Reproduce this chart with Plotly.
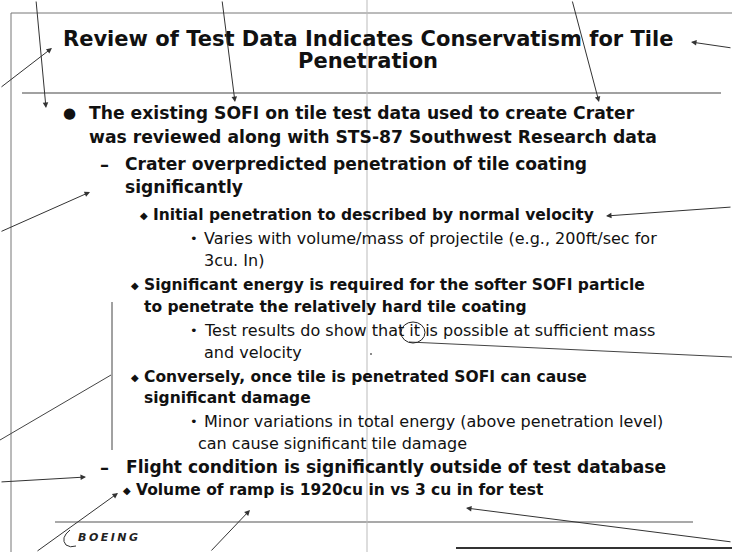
import plotly.graph_objects as go

# ---- slide content -------------------------------------------------------
title_lines = ["Review of Test Data Indicates Conservatism for Tile", "Penetration"]

body_text = [
    "The existing SOFI on tile test data used to create Crater",
    "was reviewed along with STS-87 Southwest Research data",
    "Crater overpredicted penetration of tile coating",
    "significantly",
    "Initial penetration to described by normal velocity",
    "Varies with volume/mass of projectile (e.g., 200ft/sec for",
    "3cu. In)",
    "Significant energy is required for the softer SOFI particle",
    "to penetrate the relatively hard tile coating",
    "Test results do show that it is possible at sufficient mass",
    "and velocity",
    "Conversely, once tile is penetrated SOFI can cause",
    "significant damage",
    "Minor variations in total energy (above penetration level)",
    "can cause significant tile damage",
    "Flight condition is significantly outside of test database",
    "Volume of ramp is 1920cu in vs 3 cu in for test",
]
body_level = [1, 1, 2, 2, 3, 4, 4, 3, 3, 4, 4, 3, 3, 4, 4, 2, 3]
body_bullet = ["●", "", "–", "", "◆", "•", "", "◆", "", "•", "", "◆", "", "•", "", "–", "◆"]
logo_text = "BOEING"

# ---- layout (pixel positions) -------------------------------------------
W, H = 732, 552
title_y = [39, 61]
title_cx = 368
text_x = [87, 87, 123, 123, 151, 202, 202, 142, 142, 202, 202, 142, 142, 202, 196, 124, 134]
bullet_x = [61, 0, 98, 0, 138, 188, 0, 129, 0, 188, 0, 129, 0, 188, 0, 98, 121]
text_y = [113, 137, 164, 187, 215, 238, 260, 285, 307, 330, 352, 377, 398, 421, 443, 467, 490]
level_size = {1: 17.2, 2: 17.1, 3: 15.5, 4: 16}
level_bold = {1: True, 2: True, 3: True, 4: False}
bullet_size = {"●": 15, "–": 18, "◆": 10, "•": 13}

arrow_tail_x = [36, 0, 222, 572, 732, 0, 732, 0, 36, 210, 732]
arrow_tail_y = [0, 88, 0, 0, 48, 232, 207, 482, 552, 552, 542]
arrow_head_x = [46, 52, 235, 599, 691, 90, 606, 86, 118, 250, 466]
arrow_head_y = [108, 48, 102, 102, 42, 192, 216, 477, 493, 510, 508]

# plain lines: (x0, y0, x1, y1, color, width)
plain_lines = [
    (11, 13, 732, 13, "#777", 1),       # top border
    (11, 13, 11, 552, "#777", 1),       # left border
    (22, 93, 721, 93, "#444", 1.2),     # rule under title
    (55, 522, 693, 522, "#555", 1.2),   # footer rule
    (456, 548, 732, 548, "#333", 2),    # bottom edge
    (367, 0, 367, 552, "#bbb", 1),      # scan fold
    (112, 302, 112, 450, "#444", 1),    # vertical bracket line
    (0, 440, 111, 375, "#444", 1),      # line to bracket
    (409, 342, 732, 357, "#444", 1),    # line from circled "it"
]
circle_box = (401, 322, 425, 343)

INK = "#111"
FONT = "DejaVu Sans"

fig = go.Figure()
fig.add_trace(go.Scatter(x=[371], y=[354], mode="markers",
                         marker=dict(size=2, color="#666"), hoverinfo="skip", showlegend=False))

annotations = []
for t, y in zip(title_lines, title_y):
    annotations.append(dict(x=title_cx, y=y, text="<b>%s</b>" % t, showarrow=False,
                            xanchor="center", yanchor="middle",
                            font=dict(family=FONT, size=21, color=INK)))

for t, lvl, b, tx, bx, ty in zip(body_text, body_level, body_bullet, text_x, bullet_x, text_y):
    s = "<b>%s</b>" % t if level_bold[lvl] else t
    annotations.append(dict(x=tx, y=ty, text=s, showarrow=False, xanchor="left", yanchor="middle",
                            font=dict(family=FONT, size=level_size[lvl], color=INK)))
    if b:
        annotations.append(dict(x=bx, y=ty, text="<b>%s</b>" % b if b == "–" else b,
                                showarrow=False, xanchor="left", yanchor="middle",
                                font=dict(family=FONT, size=bullet_size[b], color=INK)))

for x0, y0, x1, y1 in zip(arrow_tail_x, arrow_tail_y, arrow_head_x, arrow_head_y):
    annotations.append(dict(x=x1, y=y1, ax=x0, ay=y0, xref="x", yref="y", axref="x", ayref="y",
                            text="", showarrow=True, arrowhead=2, arrowsize=1.1,
                            arrowwidth=1, arrowcolor="#333", standoff=0, startstandoff=0))

annotations.append(dict(x=76, y=537,
                        text='<b><i><span style="letter-spacing:2.5px">%s</span></i></b>' % logo_text,
                        showarrow=False, xanchor="left", yanchor="middle",
                        font=dict(family=FONT, size=11, color="#222")))

shapes = []
for x0, y0, x1, y1, c, w in plain_lines:
    shapes.append(dict(type="line", x0=x0, y0=y0, x1=x1, y1=y1, xref="x", yref="y",
                       line=dict(color=c, width=w)))
cx0, cy0, cx1, cy1 = circle_box
shapes.append(dict(type="circle", x0=cx0, y0=cy0, x1=cx1, y1=cy1, xref="x", yref="y",
                   line=dict(color="#222", width=1)))
# Boeing swoosh
shapes.append(dict(type="path", path="M 70 530 Q 60 538 66 545 Q 70 548 76 546",
                   xref="x", yref="y", line=dict(color="#333", width=1)))

fig.update_layout(
    width=W, height=H, margin=dict(l=0, r=0, t=0, b=0),
    paper_bgcolor="white", plot_bgcolor="white",
    xaxis=dict(range=[0, W], visible=False, fixedrange=True),
    yaxis=dict(range=[H, 0], visible=False, fixedrange=True),
    annotations=annotations, shapes=shapes, showlegend=False,
)
fig.write_html("out.html", config={"displayModeBar": False},
               post_script="document.body.style.margin='0';document.body.style.overflow='hidden';")
